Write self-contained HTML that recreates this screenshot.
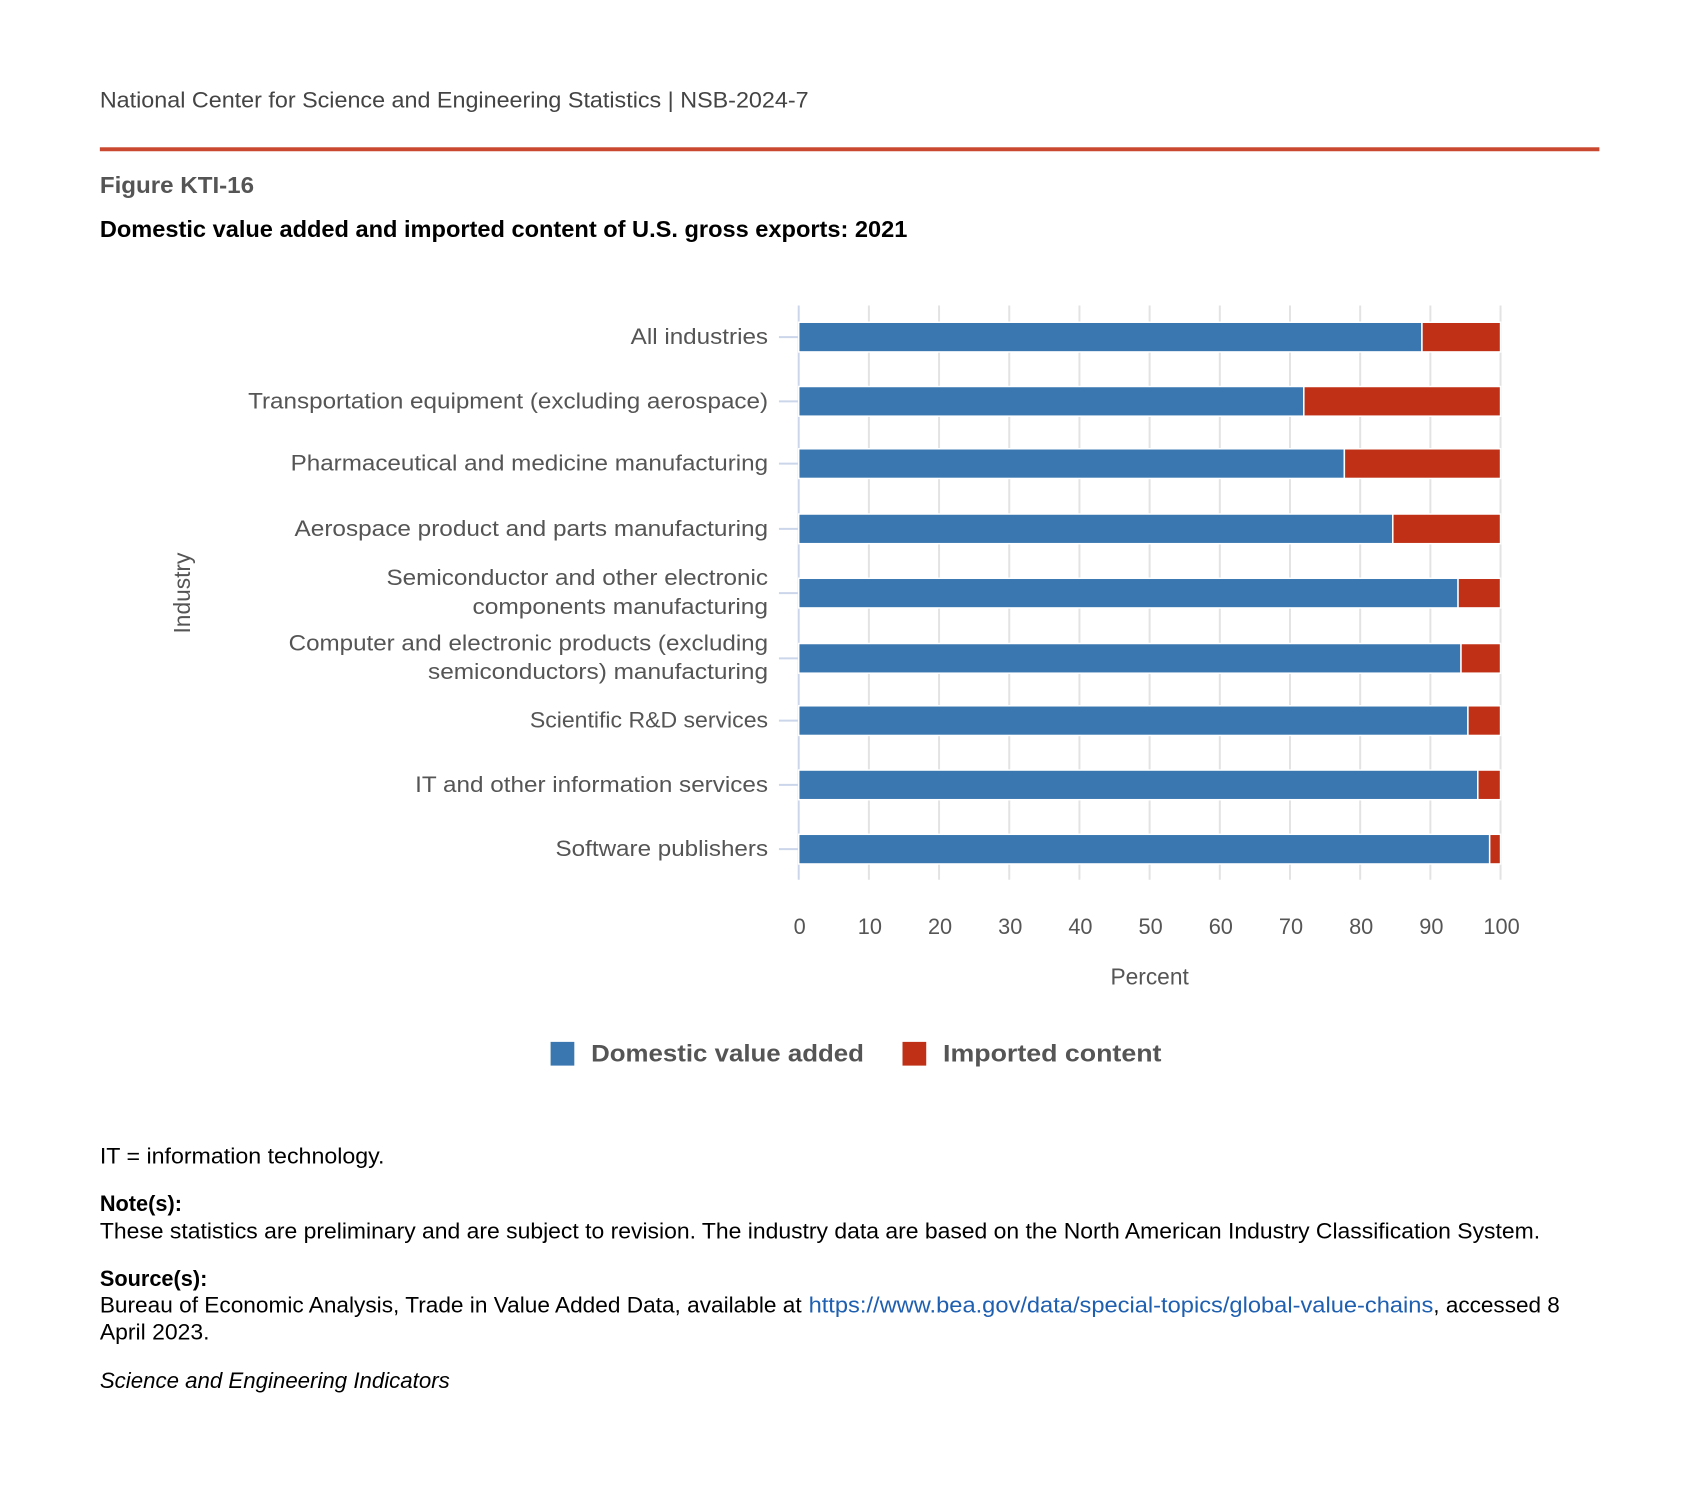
<!DOCTYPE html>
<html><head><meta charset="utf-8"><style>html,body{margin:0;padding:0;background:#fff}svg{display:block}</style></head>
<body>
<svg width="1699" height="1502" xmlns="http://www.w3.org/2000/svg" font-family="Liberation Sans, sans-serif">
<g transform="scale(0.9885)">
<text x="101" y="109" font-size="22" fill="#444" textLength="717" lengthAdjust="spacingAndGlyphs">National Center for Science and Engineering Statistics  |  NSB-2024-7</text>
<rect x="101" y="149" width="1517" height="4" fill="#c9482f"/>
<text x="101" y="195" font-size="23" font-weight="bold" fill="#555" textLength="156" lengthAdjust="spacingAndGlyphs">Figure KTI-16</text>
<text x="101" y="240" font-size="23" font-weight="bold" fill="#000" textLength="817" lengthAdjust="spacingAndGlyphs">Domestic value added and imported content of U.S. gross exports: 2021</text>

<g stroke="#e3e3e3" stroke-width="2">
<line x1="879" y1="309" x2="879" y2="890"/><line x1="950" y1="309" x2="950" y2="890"/><line x1="1021" y1="309" x2="1021" y2="890"/><line x1="1092" y1="309" x2="1092" y2="890"/><line x1="1163" y1="309" x2="1163" y2="890"/><line x1="1234" y1="309" x2="1234" y2="890"/><line x1="1305" y1="309" x2="1305" y2="890"/><line x1="1376" y1="309" x2="1376" y2="890"/><line x1="1447" y1="309" x2="1447" y2="890"/><line x1="1518" y1="309" x2="1518" y2="890"/>
</g>
<line x1="808" y1="309" x2="808" y2="890" stroke="#ccd6eb" stroke-width="2"/>
<g stroke="#ccd6eb" stroke-width="2">
<line x1="788" y1="341" x2="808" y2="341"/><line x1="788" y1="406" x2="808" y2="406"/><line x1="788" y1="469" x2="808" y2="469"/><line x1="788" y1="535" x2="808" y2="535"/><line x1="788" y1="600" x2="808" y2="600"/><line x1="788" y1="666" x2="808" y2="666"/><line x1="788" y1="729" x2="808" y2="729"/><line x1="788" y1="794" x2="808" y2="794"/><line x1="788" y1="859" x2="808" y2="859"/>
</g>
<g stroke="#fff" stroke-width="1.5">
<rect x="808" y="326" width="630.5" height="30" fill="#3a77b0"/><rect x="1438.5" y="326" width="79.5" height="30" fill="#bf3016"/>
<rect x="808" y="391" width="511" height="30" fill="#3a77b0"/><rect x="1319" y="391" width="199" height="30" fill="#bf3016"/>
<rect x="808" y="454" width="552" height="30" fill="#3a77b0"/><rect x="1360" y="454" width="158" height="30" fill="#bf3016"/>
<rect x="808" y="520" width="601" height="30" fill="#3a77b0"/><rect x="1409" y="520" width="109" height="30" fill="#bf3016"/>
<rect x="808" y="585" width="667" height="30" fill="#3a77b0"/><rect x="1475" y="585" width="43" height="30" fill="#bf3016"/>
<rect x="808" y="651" width="670" height="30" fill="#3a77b0"/><rect x="1478" y="651" width="40" height="30" fill="#bf3016"/>
<rect x="808" y="714" width="677" height="30" fill="#3a77b0"/><rect x="1485" y="714" width="33" height="30" fill="#bf3016"/>
<rect x="808" y="779" width="687" height="30" fill="#3a77b0"/><rect x="1495" y="779" width="23" height="30" fill="#bf3016"/>
<rect x="808" y="844" width="699" height="30" fill="#3a77b0"/><rect x="1507" y="844" width="11" height="30" fill="#bf3016"/>
</g>
<g font-size="22" fill="#555" text-anchor="end">
<text x="777" y="348" textLength="139" lengthAdjust="spacingAndGlyphs">All industries</text>
<text x="777" y="413" textLength="526" lengthAdjust="spacingAndGlyphs">Transportation equipment (excluding aerospace)</text>
<text x="777" y="476" textLength="483" lengthAdjust="spacingAndGlyphs">Pharmaceutical and medicine manufacturing</text>
<text x="777" y="542" textLength="479" lengthAdjust="spacingAndGlyphs">Aerospace product and parts manufacturing</text>
<text x="777" y="592" textLength="386" lengthAdjust="spacingAndGlyphs">Semiconductor and other electronic</text>
<text x="777" y="621" textLength="299" lengthAdjust="spacingAndGlyphs">components manufacturing</text>
<text x="777" y="658" textLength="485" lengthAdjust="spacingAndGlyphs">Computer and electronic products (excluding</text>
<text x="777" y="687" textLength="344" lengthAdjust="spacingAndGlyphs">semiconductors) manufacturing</text>
<text x="777" y="736" textLength="241" lengthAdjust="spacingAndGlyphs">Scientific R&amp;D services</text>
<text x="777" y="801" textLength="357" lengthAdjust="spacingAndGlyphs">IT and other information services</text>
<text x="777" y="866" textLength="215" lengthAdjust="spacingAndGlyphs">Software publishers</text>
</g>
<text transform="translate(192,600) rotate(-90)" font-size="23" fill="#555" text-anchor="middle">Industry</text>
<g font-size="22" fill="#555" text-anchor="middle">
<text x="809" y="945">0</text><text x="880" y="945">10</text><text x="951" y="945">20</text><text x="1022" y="945">30</text><text x="1093" y="945">40</text><text x="1164" y="945">50</text><text x="1235" y="945">60</text><text x="1306" y="945">70</text><text x="1377" y="945">80</text><text x="1448" y="945">90</text><text x="1519" y="945">100</text>
<text x="1163" y="996" font-size="23">Percent</text>
</g>
<rect x="557" y="1054" width="24" height="24" fill="#3a77b0"/>
<text x="598" y="1074" font-size="24" font-weight="bold" fill="#555" textLength="276" lengthAdjust="spacingAndGlyphs">Domestic value added</text>
<rect x="913" y="1054" width="24" height="24" fill="#bf3016"/>
<text x="954" y="1074" font-size="24" font-weight="bold" fill="#555" textLength="221" lengthAdjust="spacingAndGlyphs">Imported content</text>

<g font-size="22" fill="#000">
<text x="101" y="1177" textLength="288" lengthAdjust="spacingAndGlyphs">IT = information technology.</text>
<text x="101" y="1225" font-weight="bold">Note(s):</text>
<text x="101" y="1253" textLength="1457" lengthAdjust="spacingAndGlyphs">These statistics are preliminary and are subject to revision. The industry data are based on the North American Industry Classification System.</text>
<text x="101" y="1301" font-weight="bold">Source(s):</text>
<text x="101" y="1328" textLength="710" lengthAdjust="spacingAndGlyphs">Bureau of Economic Analysis, Trade in Value Added Data, available at</text>
<text x="818" y="1328" fill="#1f5fb0" textLength="632" lengthAdjust="spacingAndGlyphs">https://www.bea.gov/data/special-topics/global-value-chains</text>
<text x="1450" y="1328" textLength="128" lengthAdjust="spacingAndGlyphs">, accessed 8</text>
<text x="101" y="1355" textLength="111" lengthAdjust="spacingAndGlyphs">April 2023.</text>
<text x="101" y="1404" font-style="italic" textLength="354" lengthAdjust="spacingAndGlyphs">Science and Engineering Indicators</text>
</g>
</g>
</svg>
</body></html>
